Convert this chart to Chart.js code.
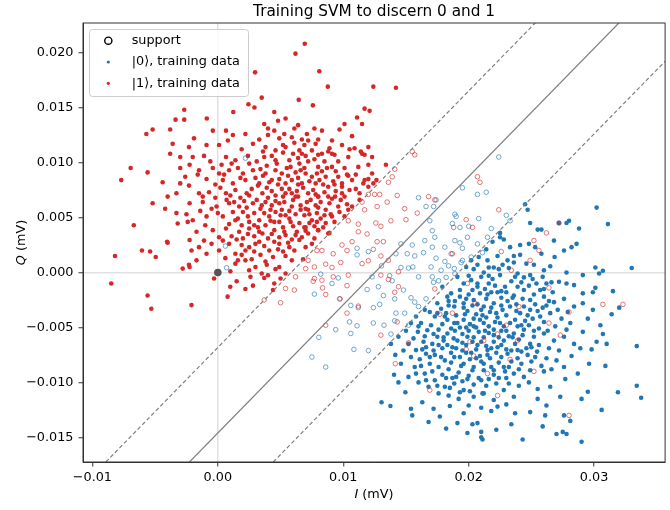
<!DOCTYPE html>
<html>
<head>
<meta charset="utf-8">
<script src="https://cdn.jsdelivr.net/npm/chart.js@4.4.1/dist/chart.umd.min.js"></script>
<style>
  html, body { margin: 0; padding: 0; background: #fff; }
  canvas { display: block; }
</style>
</head>
<body>
<canvas id="svmChart" width="670" height="510"></canvas>
<script>
// point values below are in µV (1e-3 mV)

const xTicks = [-0.01, 0, 0.01, 0.02, 0.03];
const yTicks = [-0.015, -0.01, -0.005, 0, 0.005, 0.01, 0.015, 0.02];

// |1> points outside the margin (filled red)
const red1Filled = [
  [6.93,20.8],[6.19,19.9],[2.97,18.2],[8.09,18.3],[8.77,16.9],[12.4,16.9],[3.5,15.9],[2.44,15.3],[2.92,15.0],[6.45,15.7],
  [7.58,15.2],[11.7,14.9],[12.1,14.7],[11.1,14.1],[-2.68,14.8],[1.23,14.6],[-3.37,13.9],[-2.68,13.9],[-0.88,14.0],[4.5,14.6],
  [4.8,13.8],[5.4,14.0],[3.7,13.5],[6.1,13.1],[7.7,13.1],[8.3,12.9],[10.1,13.5],[11.5,13.5],[-3.8,13.0],[-5.2,13.0],
  [-5.7,12.6],[-0.4,12.9],[0.65,12.9],[1.2,12.5],[2.2,12.6],[4.0,12.5],[4.9,12.2],[5.9,12.3],[7.2,12.0],[9.1,12.0],
  [9.9,11.6],[10.9,11.3],[12.0,11.4],[-1.9,12.2],[-3.6,11.7],[-2.3,11.4],[-0.9,11.6],[0.1,11.6],[2.8,11.7],[3.8,11.4],
  [4.6,11.1],[5.4,11.4],[6.5,11.1],[7.5,11.1],[8.3,10.8],[9.3,10.7],[10.4,10.5],[11.5,10.8],[12.3,10.5],[-3.8,10.8],
  [-3.0,10.5],[-2.0,10.5],[0.65,10.5],[1.4,10.2],[3.7,10.5],[4.6,10.2],[5.7,10.2],[6.5,9.9],[7.2,10.1],[8.0,9.6],
  [9.1,9.6],[10.1,9.5],[11.2,9.6],[12.3,9.0],[-6.95,9.5],[-5.6,9.1],[-3.0,9.5],[-2.25,9.8],[-1.5,9.3],[-0.4,9.5],
  [0.1,9.0],[0.9,9.3],[2.0,9.0],[2.8,9.3],[3.8,9.0],[4.6,9.3],[5.1,9.0],[6.2,9.1],[7.0,9.0],[7.5,8.7],
  [8.6,8.7],[9.6,8.7],[10.7,8.4],[11.7,8.4],[-7.7,8.4],[-4.4,8.2],[-2.6,8.7],[-3.0,8.1],[-0.9,8.5],[0.4,8.4],
  [1.2,8.1],[2.2,8.4],[3.3,8.1],[4.3,8.4],[5.4,8.1],[5.9,8.4],[6.7,8.1],[7.8,8.1],[8.8,7.8],[9.9,7.8],
  [11.0,7.6],[12.0,7.8],[-3.3,7.2],[-4.0,6.9],[-1.5,7.2],[-0.7,7.3],[0.65,7.2],[1.4,7.5],[2.5,7.0],[3.55,7.2],
  [4.6,7.0],[5.4,7.2],[6.2,6.9],[7.2,7.2],[8.0,6.9],[9.1,6.7],[10.1,6.9],[11.3,7.2],[-5.2,6.3],[-4.2,5.8],
  [-2.25,6.3],[-1.2,6.4],[-0.1,6.0],[0.9,6.3],[1.7,6.0],[2.8,6.3],[3.4,5.8],[4.3,6.1],[5.1,5.7],[5.9,6.0],
  [7.0,5.8],[7.8,6.1],[8.6,5.7],[9.6,6.0],[10.4,5.7],[-3.3,5.4],[-2.0,4.75],[-0.9,5.1],[0.4,5.1],[1.4,4.75],
  [2.4,5.1],[3.3,4.75],[4.1,5.1],[4.9,4.6],[5.7,4.9],[6.5,4.5],[7.5,4.75],[8.6,4.5],[9.3,4.6],[10.1,5.1],
  [-6.7,4.3],[-3.2,4.45],[-2.4,4.6],[-1.7,3.7],[-0.4,3.85],[0.65,4.0],[1.7,3.7],[2.5,4.0],[3.55,3.55],[4.5,3.85],
  [5.4,3.4],[6.3,3.7],[7.2,3.55],[8.0,3.85],[8.8,3.55],[-4.05,2.8],[-4.95,1.4],[-6.05,2.0],[-5.4,1.9],[-8.2,1.5],
  [-2.25,2.95],[-1.5,2.3],[-0.9,1.7],[0.1,2.0],[0.9,2.6],[1.4,1.7],[2.5,2.3],[3.3,2.8],[4.1,2.0],[4.9,2.6],
  [5.7,2.3],[6.5,2.95],[7.5,2.6],[-2.8,0.35],[-2.25,0.5],[-1.7,1.1],[1.4,0.8],[2.2,1.1],[3.0,0.5],[3.8,1.0],
  [4.9,0.5],[5.9,1.1],[-0.3,-0.55],[-2.1,-2.97],[0.99,-1.3],[0.78,-2.2],[2.2,-1.5],[2.8,-1.2],[3.7,-0.5],
  [4.0,-0.25],[4.5,-1.0],[4.4,-1.6],[5.0,-0.55],[5.4,-0.1],[-4.0,2.7],[-2.3,0.7],[-2.1,2.0],[-5.6,-2.1],
  [-5.3,-3.3],[-8.5,-1.0],[12.4,8.1],[11.4,11.0],[13.4,9.8],[6.7,10.8],[8.0,10.7],[9.1,10.8],[11.7,10.7],[12.0,9.8],
  [12.0,8.5],[12.65,8.4],[10.4,8.8],[11.3,6.6],[10.7,6.0],[9.1,5.1],[8.0,3.85],[7.0,2.3],[7.0,4.1],
  [9.35,6.9],[9.9,8.1],[8.0,6.9],[7.2,5.7],[8.9,3.6],[6.8,1.2],[14.2,16.8],
  [3.1,10.1],[3.9,9.7],[4.3,10.6],[5.2,10.9],[5.8,9.6],[6.4,10.4],[6.9,11.6],[7.7,10.3],[8.5,10.1],[8.9,11.3],
  [9.6,10.1],[10.5,11.2],[3.0,8.6],[3.6,8.8],[4.9,8.5],[5.6,8.8],[6.4,8.6],[6.9,9.5],[7.3,8.3],[8.1,8.4],
  [8.3,9.2],[9.2,8.3],[10.3,8.9],[11.0,8.9],[2.7,7.6],[3.9,7.7],[4.3,7.4],[5.1,7.6],[5.7,7.6],[6.3,7.4],
  [6.8,7.7],[7.6,7.5],[8.5,7.3],[9.4,7.4],[10.5,7.5],[11.6,8.1],[2.1,6.5],[3.1,6.6],[3.8,6.4],[4.6,6.5],
  [5.3,6.4],[6.0,6.6],[6.6,6.1],[7.4,6.6],[8.2,6.4],[8.9,6.3],[9.8,6.6],[10.3,6.2],[1.2,5.5],[2.0,5.5],
  [2.9,5.4],[3.7,5.4],[4.6,5.5],[5.4,5.2],[6.2,5.3],[6.9,5.2],[7.9,5.4],[8.2,4.9],[9.0,5.3],[9.7,5.5],
  [0.9,4.4],[1.9,4.3],[2.9,4.3],[3.8,4.3],[4.5,4.6],[5.2,4.1],[6.0,4.2],[6.9,4.1],[7.7,4.2],[8.4,4.1],
  [0.1,3.2],[1.1,3.3],[2.0,3.1],[2.9,3.3],[4.0,3.1],[4.9,3.2],[5.9,3.0],[6.7,3.2],[7.7,3.1],[-0.5,2.6],
  [1.9,2.5],[2.9,1.9],[3.7,2.4],[4.5,2.8],[5.2,1.9],[6.1,2.0],[0.6,1.3],[1.9,1.6],[2.7,1.2],[3.4,1.6],
  [4.4,1.4],[5.4,1.5],[1.0,0.1],[2.5,0.2],[3.5,-0.1],[4.6,0.3],[0.8,12.0],[1.9,11.2],[2.4,10.6],[3.3,12.1],
  [4.5,12.9],[5.3,12.6],[6.4,13.4],[7.1,12.6],[8.0,12.1],[8.8,11.0],[9.7,13.0],[10.7,12.4],[-1.1,10.6],[-0.6,10.1],
  [0.3,9.8],[1.6,9.5],[-1.6,8.9],[-2.3,7.9],[-1.2,6.9],[-0.2,6.8],[0.2,7.7],[1.0,7.0],[1.8,6.8],[-1.0,4.3],
  [-2.5,5.3],[-1.4,5.6],[0.0,5.4],[-1.1,2.9],[0.4,2.9],
  [3.4,9.4],[4.1,8.2],[4.7,9.9],[5.5,9.5],[6.0,10.8],[6.6,9.3],[7.0,10.6],[7.9,9.0],[8.7,9.5],[9.4,9.2],
  [3.2,7.9],[4.0,6.8],[4.8,8.0],[5.2,6.9],[5.9,7.2],[6.4,8.0],[7.1,6.4],[7.8,7.1],[8.4,8.0],[9.3,8.0],
  [2.3,7.2],[3.5,6.1],[4.2,5.7],[4.9,6.3],[5.7,5.6],[6.4,6.9],[7.3,5.3],[8.0,5.9],[8.8,6.9],[9.9,7.2],
  [1.6,4.9],[2.5,4.6],[3.2,4.1],[4.2,4.7],[5.0,5.2],[5.8,4.6],[6.6,5.7],[7.3,4.5],[7.9,4.6],[8.5,5.2],
  [1.5,3.0],[2.4,3.5],[3.3,3.7],[4.3,3.5],[5.3,3.7],[6.2,3.4],[7.0,3.8],[2.2,2.0],[3.0,2.6],[4.8,2.1],
  [5.6,2.7],[3.9,0.7],[1.6,1.1],[2.6,-0.4],[1.5,-0.8],[5.2,11.6],[6.1,11.8],[7.8,11.7],[3.6,11.0],[2.5,9.9],
  [1.8,8.6],[1.1,9.9],[-0.2,8.0],[0.7,6.6],[-0.5,5.8],[1.3,6.4],[2.3,5.9],[0.5,8.9],[4.0,13.1],[6.7,12.1]
];

// |1> points that are support vectors (hollow red)
const red1Support = [
  [15.5,11.0],[15.7,10.7],[14.1,9.4],[13.6,8.2],[13.9,8.7],[14.3,7.0],[13.5,6.4],[12.7,6.0],[12.0,7.1],[12.5,7.1],
  [12.9,7.1],[11.5,6.4],[11.7,5.7],[10.4,4.7],[11.2,4.4],[12.6,4.5],[13.0,4.2],[13.8,4.7],[15.0,4.8],[15.9,5.4],
  [16.8,6.9],[17.3,6.6],[14.9,5.8],[11.2,3.7],[11.9,3.5],[12.7,2.8],[13.2,2.8],[9.9,2.5],[10.7,2.8],[10.3,2.0],
  [9.2,1.7],[8.3,2.0],[8.6,0.76],[7.7,0.5],[9.1,0.45],[9.8,0.9],[11.5,0.8],[12.0,1.06],[12.4,2.1],[13.0,1.5],
  [13.6,1.1],[9.2,-0.4],[10.4,-0.24],[7.7,-0.55],[8.35,-1.4],[10.3,-1.2],[8.6,-2.0],[9.75,-2.4],[11.2,-3.06],[10.3,-3.7],
  [8.6,-4.8],[14.4,0.06],[13.0,-0.24],[13.6,-0.64],[14.1,-1.8],[14.4,-1.3],[13.0,-5.7],[14.3,-4.5],[18.7,1.7],[18.8,4.1],
  [19.8,4.8],[20.3,4.1],[20.9,8.2],[20.7,8.7],[22.4,5.7],[22.6,1.9],[23.4,0.2],[24.0,-3.1],[25.2,2.9],[24.9,1.1],
  [25.6,2.0],[26.2,3.6],[27.2,4.5],[26.4,-1.4],[17.3,-1.5],[18.7,-3.7],[19.9,-1.0],[20.5,-2.8],[20.1,-6.3],[17.7,-3.8],
  [15.2,-6.4],[14.15,-8.3],[16.9,-10.7],[19.8,-7.0],[20.4,-7.6],[21.5,-9.2],[21.2,-6.2],[22.3,-5.6],[23.0,-4.8],[23.9,-6.2],
  [23.3,-7.9],[22.3,-11.2],[25.2,-9.0],[26.4,-4.6],[27.3,-5.7],[28.0,-3.6],[30.7,-2.9],[32.3,-2.9],[28.0,-13.0],
  [3.7,-2.5],[5.0,-2.75],[5.4,-1.45],[6.1,-1.6],[7.6,-0.8],[8.3,-0.7],[7.0,0.35],[6.2,-0.4],[7.2,1.1],[7.9,2.0]
];

// |0> points outside the margin (filled blue)
const blue0Filled = [
  [24.7,5.7],[24.5,6.2],[30.2,5.9],[31.1,4.4],[24.9,4.5],[25.5,3.9],[25.8,3.9],[27.2,4.5],[27.8,4.5],[28.0,4.7],
  [28.8,4.0],[28.6,2.6],[28.2,2.3],[27.6,2.0],[26.8,2.9],[26.85,1.4],[26.5,0.57],[24.8,2.6],[25.3,2.3],[25.8,1.7],
  [24.1,2.5],[23.3,2.3],[23.6,1.5],[22.5,3.2],[22.8,3.0],[21.9,2.8],[22.3,1.5],[23.1,1.1],[24.6,0.8],[25.2,0.7],
  [26.0,0.2],[27.8,0.0],[29.1,-0.24],[30.1,0.45],[30.7,0.15],[30.4,-0.1],[33.0,0.4],[21.5,1.1],[21.6,0.45],[20.8,1.4],
  [20.2,1.1],[20.7,0.7],[19.8,0.5],[21.2,0.0],[22.0,0.45],[22.5,-0.24],[23.2,0.4],[23.9,-0.1],[24.4,-0.45],[24.9,-0.24],
  [25.4,-1.0],[26.2,-1.0],[27.2,-0.85],[27.8,-1.0],[28.4,-1.15],[29.1,-1.9],[29.9,-1.8],[30.1,-1.4],[31.5,-1.7],[19.1,-0.4],
  [19.6,-1.0],[20.2,-0.7],[20.7,-1.3],[21.6,-1.0],[22.3,-1.8],[22.9,-1.3],[23.6,-2.1],[24.4,-1.6],[24.9,-2.5],[26.0,-2.2],
  [26.8,-2.7],[27.6,-2.4],[28.4,-3.1],[29.1,-2.8],[29.9,-3.4],[18.3,-2.2],[17.5,-2.8],[18.85,-3.1],[19.6,-2.8],[20.4,-2.5],
  [21.2,-3.1],[22.0,-2.8],[22.7,-3.4],[23.3,-3.1],[24.1,-3.7],[24.9,-3.4],[25.7,-4.0],[26.5,-3.7],[27.4,-4.2],[28.1,-4.6],
  [29.1,-5.4],[30.5,-4.8],[30.7,-5.6],[31.0,-6.5],[33.4,-6.7],[16.5,-3.4],[17.3,-4.0],[18.1,-4.0],[18.85,-4.6],[19.6,-4.3],
  [20.4,-4.9],[21.2,-4.6],[22.0,-5.2],[22.8,-4.9],[23.6,-5.55],[24.4,-5.2],[25.2,-5.85],[26.0,-5.55],[26.8,-6.2],[27.6,-5.85],
  [28.4,-6.5],[28.9,-6.9],[29.8,-7.0],[15.4,-4.6],[15.95,-5.4],[16.7,-5.25],[17.5,-5.85],[18.3,-5.55],[19.1,-6.2],[19.9,-5.85],
  [20.7,-6.6],[21.5,-7.06],[22.3,-6.8],[23.1,-7.4],[23.9,-7.06],[24.7,-7.5],[25.45,-7.2],[26.2,-7.8],[27.0,-8.0],[27.6,-8.6],
  [14.4,-5.85],[15.2,-6.5],[15.8,-7.06],[16.6,-6.8],[17.3,-7.5],[18.1,-8.0],[18.85,-7.7],[19.6,-8.3],[20.4,-8.6],[21.2,-8.3],
  [22.0,-8.9],[22.8,-8.6],[23.6,-9.2],[24.4,-9.5],[24.9,-8.9],[26.0,-9.0],[27.7,-9.7],[13.8,-6.5],[14.15,-7.5],[14.6,-8.3],
  [14.05,-9.3],[14.4,-10.0],[14.95,-10.9],[15.7,-8.6],[16.5,-9.2],[17.3,-9.8],[18.1,-10.4],[18.85,-10.1],[19.6,-10.7],[20.4,-11.3],
  [21.2,-11.0],[22.0,-11.6],[22.8,-10.7],[23.6,-11.3],[24.9,-12.7],[26.2,-12.1],[13.76,-12.15],[13.05,-11.8],[15.4,-12.4],[15.5,-13.0],
  [16.8,-13.6],[17.7,-13.1],[18.5,-12.15],[19.1,-13.7],[19.6,-12.8],[20.3,-13.8],[20.7,-13.7],[21.0,-14.5],[21.0,-15.0],[21.1,-15.2],
  [24.3,-15.2],[29.0,-15.4],[27.0,-14.7],[27.5,-14.5],[27.8,-14.7],[28.1,-13.5],[27.6,-13.0],[29.0,-11.5],[29.5,-10.85],[31.9,-10.9],
  [33.4,-10.3],[33.75,-11.4],[30.9,-8.5],[26.1,-13.0],[23.7,-12.8],[22.3,-12.2],[22.5,3.6],
  [17.9,-1.3],[18.6,-1.9],[19.3,-1.6],[20.0,-2.0],[20.9,-1.9],[21.4,-2.4],[22.6,-2.3],[23.1,-2.6],[23.8,-2.9],[24.3,-2.4],
  [25.3,-2.9],[25.9,-3.2],[26.4,-2.6],[27.1,-3.4],[27.9,-3.6],[16.9,-3.6],[17.8,-3.3],[18.2,-3.7],[19.0,-3.9],[19.9,-3.5],
  [20.6,-3.8],[21.1,-3.9],[21.7,-3.6],[22.3,-4.1],[23.0,-3.9],[23.7,-4.3],[24.5,-4.4],[25.1,-4.2],[26.0,-4.5],[26.9,-4.9],
  [27.8,-5.2],[15.8,-4.0],[16.2,-4.6],[17.0,-4.8],[17.9,-4.7],[18.6,-5.1],[19.3,-5.0],[20.0,-5.3],[20.8,-5.4],[21.6,-5.5],
  [22.4,-5.9],[23.2,-5.8],[24.0,-6.1],[24.9,-6.5],[25.6,-6.6],[26.4,-6.9],[27.2,-7.1],[28.2,-7.6],[15.0,-5.3],[15.6,-6.0],
  [16.4,-6.3],[17.1,-6.5],[17.9,-6.9],[18.7,-6.8],[19.5,-7.1],[20.2,-7.3],[20.9,-7.6],[21.7,-7.8],[22.6,-7.7],[23.4,-8.1],
  [24.2,-8.3],[25.0,-8.1],[25.8,-8.5],[26.6,-8.8],[14.8,-7.1],[15.4,-7.7],[16.1,-7.9],[16.9,-8.3],[17.6,-8.6],[18.4,-8.8],
  [19.2,-9.1],[20.0,-9.4],[20.8,-9.6],[21.6,-9.7],[22.4,-9.6],[23.2,-10.1],[24.0,-10.3],[24.8,-10.0],[25.5,-10.6],[26.5,-10.4],
  [15.2,-9.5],[16.0,-10.0],[16.8,-10.4],[17.6,-11.0],[18.4,-11.2],[19.2,-11.5],[20.0,-12.1],[21.0,-12.3],[21.8,-12.6],[23.0,-12.0],
  [25.5,-11.5],[16.3,-11.8],[17.2,-12.4],[20.4,0.3],[21.0,-0.4],[21.9,-0.6],[22.7,0.7],[23.6,0.9],[24.1,1.6],[21.4,2.1],
  [29.5,-4.2],[30.2,-6.3],[31.4,-3.8],[28.7,-9.2],[29.6,-8.3],[27.3,-11.3],[25.9,-14.0],[23.4,-13.8],[22.2,-14.3],[19.9,-14.6],
  [18.2,-14.2],[30.6,-12.5],[32.0,-3.2],[19.6,-3.2],[20.3,-3.0],[21.0,-3.4],[21.8,-3.2],[22.6,-3.0],[19.1,-4.6],[20.1,-4.7],
  [20.9,-4.3],[21.6,-4.9],[22.5,-4.6],[23.3,-4.6],[19.5,-5.6],[20.4,-5.9],[21.2,-5.9],[22.0,-6.3],[22.8,-6.2],[23.7,-6.5],
  [19.8,-6.6],[20.6,-7.0],[21.4,-6.7],[22.2,-7.3],[23.0,-7.0],[18.6,-7.3],[19.3,-7.7],[20.1,-7.9],[21.0,-8.1],[21.8,-8.6],
  [22.9,-9.0],[18.0,-6.2],[17.2,-7.1],[16.6,-7.4],[17.9,-9.3],[18.7,-9.6],[19.5,-9.9],[20.4,-10.2],[21.4,-10.3],[22.2,-10.1],
  [23.9,-7.8],[24.6,-6.9],[25.3,-7.7],[24.2,-4.8],[25.6,-5.1],[26.3,-5.3],[23.8,-3.5],[24.7,-3.9],[25.5,-3.5],[26.2,-3.0],
  [21.3,-1.5],[22.1,-1.2],[23.0,-1.8],[23.9,-1.3],[24.8,-1.2],[25.7,-1.6],[26.7,-1.8],[20.3,-1.6],[19.8,-2.4],[18.9,-2.6],
  [18.4,-3.0],[19.3,-2.2],[20.7,-2.9],[21.5,-2.0],[22.2,-3.7],[23.5,-2.3],[24.4,-3.1],[19.7,-3.8],[20.4,-4.2],[21.4,-4.1],
  [22.1,-4.5],[23.0,-5.3],[23.9,-4.9],[24.8,-4.8],[18.3,-4.3],[17.6,-5.2],[18.9,-5.3],[19.8,-5.0],[20.6,-5.0],[21.3,-5.3],
  [22.0,-5.7],[22.6,-5.3],[23.5,-5.9],[24.3,-5.7],[25.2,-5.3],[17.2,-5.6],[18.0,-5.9],[18.8,-6.0],[19.5,-6.4],[20.3,-6.3],
  [21.0,-6.3],[21.8,-6.9],[22.6,-6.6],[23.4,-7.1],[24.2,-7.2],[25.0,-6.8],[16.5,-5.8],[17.6,-6.6],[18.3,-6.6],[19.0,-6.9],
  [19.8,-7.3],[20.6,-7.8],[21.5,-7.5],[22.4,-8.2],[23.2,-8.6],[24.0,-8.8],[16.3,-7.0],[16.9,-7.7],[17.8,-7.7],[18.6,-8.2],
  [19.4,-8.5],[20.3,-8.9],[21.2,-8.9],[22.0,-9.3],[23.0,-9.6],[16.2,-8.5],[17.1,-9.0],[18.2,-9.6],[19.0,-9.5],[19.9,-9.7],
  [21.0,-9.8],[15.8,-9.2],[16.6,-9.8],[17.5,-10.3],[18.5,-10.5],[19.3,-10.9],[20.1,-10.8],[21.1,-11.0],[16.0,-4.9],[17.5,-3.7],
  [18.4,-2.6],[20.7,-1.0],[21.8,-1.8],[22.6,-1.7],[23.4,-0.8],[24.2,-0.9],[25.2,-2.0],[26.0,-1.5],[20.0,-0.3],[21.6,-0.3],
  [22.4,0.3],[23.7,-0.4],[25.1,-0.6],[25.9,-0.4],[26.6,-0.9]
];

// |0> points that are support vectors (hollow blue)
const blue0Support = [
  [22.4,10.5],[19.5,7.7],[20.7,7.1],[21.4,7.3],[16.0,6.8],[16.6,6.0],[17.2,6.0],[17.4,6.6],[18.9,5.3],[19.0,5.1],
  [18.7,4.45],[16.9,4.7],[19.3,4.1],[20.8,4.9],[20.0,4.2],[21.8,4.0],[23.0,5.2],[23.3,4.7],[17.1,3.8],[16.5,2.9],
  [17.3,3.2],[18.9,2.9],[19.3,2.7],[19.9,3.2],[19.5,2.2],[20.7,2.6],[21.5,3.2],[18.1,2.3],[17.1,2.3],[15.5,2.5],
  [14.6,2.6],[14.2,1.7],[15.1,1.7],[15.7,1.5],[16.4,1.8],[17.4,1.3],[18.1,1.0],[18.6,1.7],[19.5,1.1],[20.2,1.4],
  [21.1,1.8],[15.2,0.4],[14.6,0.45],[15.55,0.5],[16.0,-0.4],[17.0,0.5],[17.1,-0.4],[17.6,-0.76],[18.2,-0.45],[18.85,0.36],
  [13.05,0.6],[13.7,-0.3],[12.8,-1.3],[13.9,-0.76],[12.3,-0.4],[11.1,2.2],[12.0,1.9],[9.1,-1.0],[8.2,-0.15],[7.7,-1.97],
  [10.6,-3.0],[11.2,-3.2],[12.9,-2.9],[12.4,-3.2],[11.9,-1.55],[13.2,-2.1],[14.1,-2.4],[14.8,-1.6],[15.4,-2.3],[15.7,-2.7],
  [16.6,-2.4],[16.0,-3.1],[14.2,-3.7],[14.9,-3.7],[14.1,-4.4],[13.25,-4.8],[12.4,-4.6],[11.1,-4.85],[10.5,-4.5],[10.6,-5.55],
  [9.4,-5.2],[8.05,-5.9],[10.85,-7.0],[12.0,-7.1],[13.8,-5.6],[7.5,-7.7],[8.6,-8.6],[15.2,-4.8],
  [2.2,10.4],[0.6,2.4],[0.7,0.43],[11.1,1.6],[9.6,-0.5],[9.7,-2.4],
  [17.2,-0.9],[17.8,0.2],[18.4,0.6],[18.9,-0.1],[19.4,0.9]
];

// origin marker
const originPt = [[0, 0]];

// decision boundary and margins, endpoints at the axes edges (mV)
const boundaryLine = [[-0.00226, -0.01724], [0.03197, 0.02269]];
const upperMargin = [[-0.00893, -0.01724], [0.02530, 0.02269]];
const lowerMargin = [[0.00442, -0.01724], [0.03566, 0.01921]];

const xRange = [-0.01075, 0.03566];
const yRange = [-0.01724, 0.02269];

const FONT = "'DejaVu Sans', sans-serif";
const RED = '#d62728', BLUE = '#1f77b4';

const fromMicro = pts => pts.map(p => ({ x: p[0] / 1000, y: p[1] / 1000 }));
const asXY = pts => pts.map(p => ({ x: p[0], y: p[1] }));
const fmt = (v, d) => {
  if (Math.abs(v) < 1e-12) v = 0;
  return v.toFixed(d).replace('-', '\u2212');
};

function lineSet(pts, dash) {
  return {
    type: 'line', data: asXY(pts), showLine: true, pointRadius: 0,
    borderColor: '#808080', borderWidth: 1.2, borderDash: dash, order: 0
  };
}

// frame, title, axis labels and legend (matplotlib-style)
const decor = {
  id: 'decor',
  afterDatasetsDraw(chart) {
    const { ctx, chartArea: a } = chart;
    ctx.save();
    ctx.strokeStyle = '#333';
    ctx.lineWidth = 1;
    ctx.strokeRect(a.left, a.top, a.right - a.left, a.bottom - a.top);

    ctx.fillStyle = '#000';
    ctx.font = `15.3px ${FONT}`;
    ctx.textAlign = 'center';
    ctx.textBaseline = 'alphabetic';
    ctx.fillText('Training SVM to discern 0 and 1', (a.left + a.right) / 2, 16);

    const drawLabel = (sym, rest, cx, cy) => {
      ctx.font = `italic 12.8px ${FONT}`;
      const w1 = ctx.measureText(sym).width;
      ctx.font = `12.8px ${FONT}`;
      const w2 = ctx.measureText(rest).width;
      const x0 = cx - (w1 + w2) / 2;
      ctx.textAlign = 'left';
      ctx.textBaseline = 'middle';
      ctx.font = `italic 12.8px ${FONT}`;
      ctx.fillText(sym, x0, cy);
      ctx.font = `12.8px ${FONT}`;
      ctx.fillText(rest, x0 + w1, cy);
    };
    drawLabel('I', ' (mV)', (a.left + a.right) / 2, 495);
    ctx.save();
    ctx.translate(22, (a.top + a.bottom) / 2);
    ctx.rotate(-Math.PI / 2);
    drawLabel('Q', ' (mV)', 0, 0);
    ctx.restore();

    // legend
    const lx = 89.5, ly = 29.5, lw = 159, lh = 67, r = 3;
    ctx.beginPath();
    ctx.moveTo(lx + r, ly);
    ctx.arcTo(lx + lw, ly, lx + lw, ly + lh, r);
    ctx.arcTo(lx + lw, ly + lh, lx, ly + lh, r);
    ctx.arcTo(lx, ly + lh, lx, ly, r);
    ctx.arcTo(lx, ly, lx + lw, ly, r);
    ctx.closePath();
    ctx.fillStyle = 'rgba(255,255,255,0.8)';
    ctx.fill();
    ctx.strokeStyle = '#cccccc';
    ctx.stroke();

    const rows = [
      { label: 'support', y: 40.7, kind: 'ring' },
      { label: '|0\u27E9, training data', y: 62, kind: 'dot', color: BLUE },
      { label: '|1\u27E9, training data', y: 83.3, kind: 'dot', color: RED }
    ];
    rows.forEach(row => {
      ctx.beginPath();
      if (row.kind === 'ring') {
        ctx.arc(108.3, row.y, 3.6, 0, Math.PI * 2);
        ctx.strokeStyle = '#000';
        ctx.lineWidth = 1.4;
        ctx.stroke();
      } else {
        ctx.arc(108.3, row.y, 1.6, 0, Math.PI * 2);
        ctx.fillStyle = row.color;
        ctx.fill();
      }
      ctx.fillStyle = '#000';
      ctx.font = `12.8px ${FONT}`;
      ctx.textAlign = 'left';
      ctx.textBaseline = 'middle';
      ctx.fillText(row.label, 131.7, row.y);
    });
    ctx.restore();
  }
};

new Chart(document.getElementById('svmChart'), {
  type: 'scatter',
  data: {
    datasets: [
      lineSet(boundaryLine, []),
      lineSet(upperMargin, [4, 2.5]),
      lineSet(lowerMargin, [4, 2.5]),
      { data: asXY(originPt), pointRadius: 3.8, backgroundColor: '#555555', borderWidth: 0, order: 1 },
      { data: fromMicro(red1Support), pointRadius: 2.3, backgroundColor: 'rgba(0,0,0,0)',
        borderColor: 'rgba(214,39,40,0.7)', borderWidth: 0.9, order: 2 },
      { data: fromMicro(blue0Support), pointRadius: 2.3, backgroundColor: 'rgba(0,0,0,0)',
        borderColor: 'rgba(31,119,180,0.7)', borderWidth: 0.9, order: 2 },
      { data: fromMicro(red1Filled), pointRadius: 2.3, backgroundColor: RED, borderWidth: 0, order: 3 },
      { data: fromMicro(blue0Filled), pointRadius: 2.3, backgroundColor: BLUE, borderWidth: 0, order: 3 }
    ]
  },
  options: {
    responsive: false,
    animation: false,
    devicePixelRatio: 1,
    layout: { padding: { top: 23, right: 1, left: 0, bottom: 0 } },
    plugins: { legend: { display: false }, tooltip: { enabled: false }, title: { display: false } },
    scales: {
      x: {
        type: 'linear', min: xRange[0], max: xRange[1],
        afterBuildTicks: s => { s.ticks = xTicks.map(v => ({ value: v })); },
        afterFit: s => { s.height = 48; },
        ticks: { callback: v => fmt(v, 2), color: '#000', font: { family: FONT, size: 12.8 }, padding: 3, maxRotation: 0 },
        grid: {
          color: c => (c.tick && Math.abs(c.tick.value) < 1e-12) ? 'rgba(0,0,0,0.12)' : 'rgba(0,0,0,0)',
          lineWidth: 1.5, tickColor: '#333', tickLength: 4.5, tickWidth: 1
        },
        border: { display: true, color: '#333', width: 1 }
      },
      y: {
        type: 'linear', min: yRange[0], max: yRange[1],
        afterBuildTicks: s => { s.ticks = yTicks.map(v => ({ value: v })); },
        afterFit: s => { s.width = 83; },
        ticks: { callback: v => fmt(v, 3), color: '#000', font: { family: FONT, size: 12.8 }, padding: 5 },
        grid: {
          color: c => (c.tick && Math.abs(c.tick.value) < 1e-12) ? 'rgba(0,0,0,0.12)' : 'rgba(0,0,0,0)',
          lineWidth: 1.5, tickColor: '#333', tickLength: 4.5, tickWidth: 1
        },
        border: { display: true, color: '#333', width: 1 }
      }
    }
  },
  plugins: [decor]
});
</script>
</body>
</html>
